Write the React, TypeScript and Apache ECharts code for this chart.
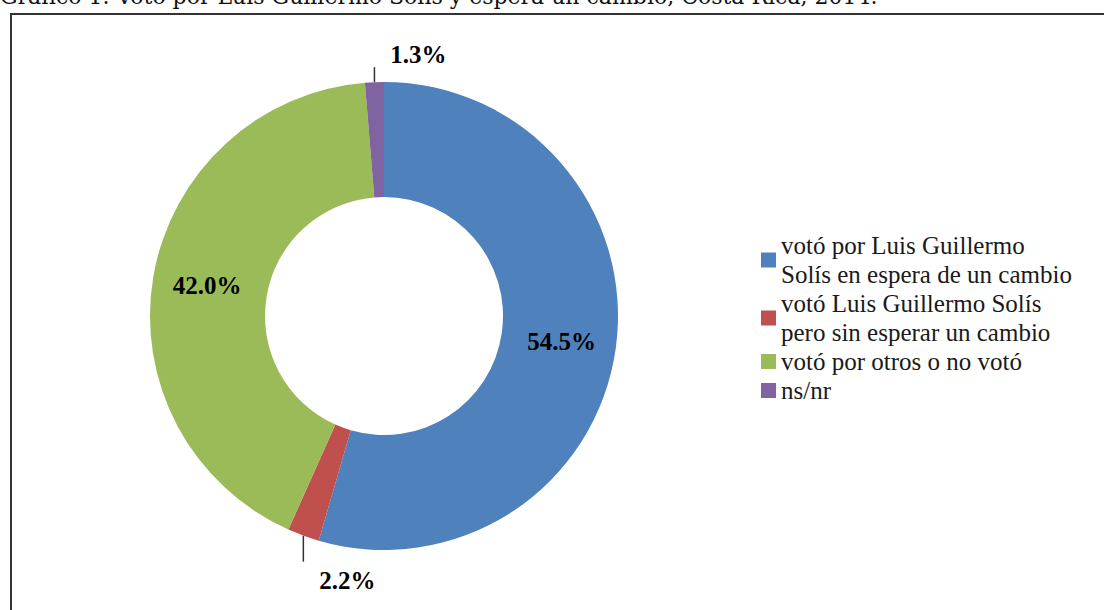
import React, { useEffect, useRef } from "react";
import * as echarts from "echarts";

const TITLE = "Gráfico 1. Votó por Luis Guillermo Solís y espera un cambio, Costa Rica, 2014.";
const categories = [
  "votó por Luis Guillermo\nSolís en espera de un cambio",
  "votó Luis Guillermo Solís\npero sin esperar un cambio",
  "votó por otros o no votó",
  "ns/nr",
];
const values = [54.5, 2.2, 42.0, 1.3];
const colors = ["#4F81BD", "#C0504D", "#9BBB59", "#8064A2"];

const CX = 384;
const CY = 316;
const R_IN = 119;
const R_OUT = 234;

export default function App() {
  const ref = useRef<HTMLDivElement>(null);
  useEffect(() => {
    if (!ref.current) return;
    const chart = echarts.init(ref.current, null, { renderer: "svg" });
    const total = values.reduce((a, b) => a + b, 0);
    const anchor = (i: number) => {
      let cum = 0;
      for (let k = 0; k < i; k++) cum += values[k];
      const th = (2 * Math.PI * (cum + values[i] / 2)) / total;
      return [CX + R_OUT * Math.sin(th), CY - R_OUT * Math.cos(th)];
    };
    const outside = { 1: { len: 26, dy: 19 }, 3: { len: -15, dy: -13 } } as Record<number, { len: number; dy: number }>;
    chart.setOption({
      animation: false,
      backgroundColor: "#ffffff",
      graphic: [
        {
          type: "rect",
          shape: { x: 11, y: 14, width: 1200, height: 700 },
          style: { fill: "none", stroke: "#333", lineWidth: 2 },
          silent: true,
        },
        {
          type: "text",
          x: 0,
          y: -15,
          style: {
            text: TITLE,
            font: "22px 'DejaVu Serif'",
            fill: "#111",
          },
          silent: true,
        },
      ],
      legend: {
        orient: "vertical",
        left: 756,
        top: 226,
        itemWidth: 15,
        itemHeight: 15,
        itemGap: 0,
        icon: "rect",
        data: categories,
        textStyle: {
          fontFamily: "'Liberation Serif', serif",
          fontSize: 25,
          lineHeight: 29,
          color: "#1a1a1a",
        },
      },
      series: [
        {
          type: "pie",
          center: [CX, CY],
          radius: [R_IN, R_OUT],
          startAngle: 90,
          clockwise: true,
          avoidLabelOverlap: false,
          color: colors,
          label: {
            show: true,
            position: "inside",
            formatter: (p: any) => p.value.toFixed(1) + "%",
            fontFamily: "'Liberation Serif', serif",
            fontWeight: "bold",
            fontSize: 25,
            color: "#000",
          },
          labelLine: { show: false },
          labelLayout: (p: any) => {
            const o = outside[p.dataIndex];
            if (!o) return {};
            const [ax, ay] = anchor(p.dataIndex);
            const ey = ay + o.len;
            return {
              x: ax + 44,
              y: ey + o.dy,
              align: "center",
              verticalAlign: "middle",
              labelLinePoints: [
                [ax, ay],
                [ax, ey],
                [ax, ey],
              ],
            };
          },
          data: categories.map((name, i) => {
            const item: any = { name, value: values[i] };
            if (outside[i]) {
              item.label = { position: "outside" };
              item.labelLine = {
                show: true,
                length: 15,
                length2: 0,
                lineStyle: { color: "#333", width: 1.5 },
              };
            }
            return item;
          }),
        },
      ],
    });
    return () => chart.dispose();
  }, []);
  return (
    <div
      ref={ref}
      style={{ position: "fixed", left: 0, top: 0, width: 1104, height: 610 }}
    />
  );
}
